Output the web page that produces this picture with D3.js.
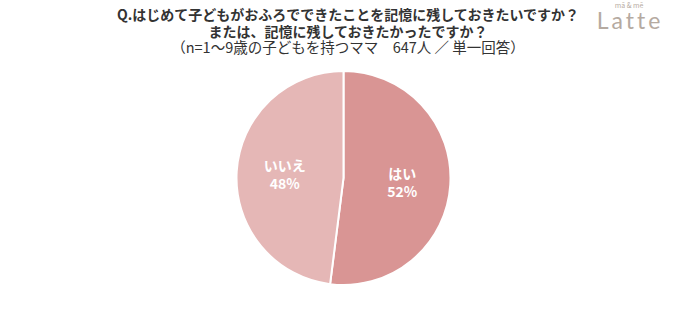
<!DOCTYPE html>
<html>
<head>
<meta charset="utf-8">
<script src="https://cdn.jsdelivr.net/npm/d3@7"></script>
<style>
  body { margin: 0; background: #fff; }
  svg { display: block; font-family: "Noto Sans CJK JP", "Noto Sans", sans-serif; }
</style>
</head>
<body>
<svg id="area" width="686" height="318"></svg>
<script>
const categories = ['はい', 'いいえ'];
const values = [52, 48];
const colors = ['#d99594', '#e5b7b6'];
const titleLines = [
  'Q.はじめて子どもがおふろでできたことを記憶に残しておきたいですか？',
  'または、記憶に残しておきたかったですか？',
  '（n=1～9歳の子どもを持つママ　647人 ／ 単一回答）',
];

const svg = d3.select('#area');
const cx = 343.5;
const cy = 178;
const radius = 107;

// title
svg.append('g')
  .selectAll('text')
  .data(titleLines)
  .join('text')
  .attr('x', 348)
  .attr('y', (d, i) => 20 + i * 16.5)
  .attr('text-anchor', 'middle')
  .attr('font-size', (d, i) => (i < 2 ? 14 : 14.5))
  .attr('font-weight', (d, i) => (i < 2 ? 600 : 400))
  .attr('fill', '#333')
  .text((d) => d);

// logo
svg.append('text')
  .attr('x', 629).attr('y', 8)
  .attr('text-anchor', 'middle')
  .attr('font-size', 7)
  .attr('fill', '#b8aca3')
  .text('mā & mē');
svg.append('text')
  .attr('x', 630).attr('y', 29)
  .attr('text-anchor', 'middle')
  .attr('font-family', 'Lato, sans-serif')
  .attr('font-size', 23)
  .attr('letter-spacing', 3)
  .attr('fill', '#b5aaa1')
  .text('Latte');

const data = categories.map((c, i) => ({ name: c, value: values[i], color: colors[i] }));
const pie = d3.pie().sort(null).value((d) => d.value);
const arc = d3.arc().innerRadius(0).outerRadius(radius);
const labelArc = d3.arc().innerRadius(radius * 0.55).outerRadius(radius * 0.55);

const g = svg.append('g').attr('transform', `translate(${cx},${cy})`);

g.selectAll('path')
  .data(pie(data))
  .join('path')
  .attr('d', arc)
  .attr('fill', (d) => d.data.color)
  .attr('stroke', '#fff')
  .attr('stroke-width', 2);

const labels = g.selectAll('g.label')
  .data(pie(data))
  .join('g')
  .attr('class', 'label')
  .attr('transform', (d) => `translate(${labelArc.centroid(d)})`);

labels.append('text')
  .attr('text-anchor', 'middle')
  .attr('y', -3)
  .attr('font-size', 14)
  .attr('font-weight', 700)
  .attr('fill', '#fff')
  .text((d) => d.data.name);

labels.append('text')
  .attr('text-anchor', 'middle')
  .attr('y', 15)
  .attr('font-size', 14)
  .attr('font-weight', 700)
  .attr('fill', '#fff')
  .text((d) => `${d.data.value}%`);
</script>
</body>
</html>
